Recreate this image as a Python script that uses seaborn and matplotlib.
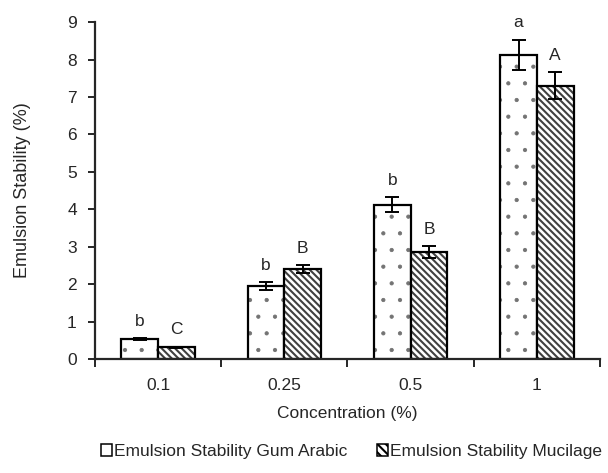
import numpy as np
import pandas as pd
import matplotlib
matplotlib.use("Agg")
import matplotlib.pyplot as plt
import seaborn as sns
from matplotlib.patches import Patch

# ----------------------------------------
# Datos
concentrations = ["0.1", "0.25", "0.5", "1"]
series_names = ["Emulsion Stability Gum Arabic", "Emulsion Stability Mucilage"]
gum_arabic = [0.53, 1.95, 4.12, 8.13]
gum_arabic_err = [0.03, 0.10, 0.20, 0.40]
mucilage = [0.31, 2.40, 2.86, 7.30]
mucilage_err = [0.02, 0.11, 0.15, 0.36]
letters_gum = ["b", "b", "b", "a"]
letters_muc = ["C", "B", "B", "A"]

data = pd.DataFrame({
    "Concentration": concentrations * 2,
    "Serie": [series_names[0]] * 4 + [series_names[1]] * 4,
    "Stability": gum_arabic + mucilage,
})
errors = gum_arabic_err + mucilage_err
letters = letters_gum + letters_muc

sns.set_theme(style="ticks")
plt.rcParams["font.family"] = ["Liberation Sans", "DejaVu Sans"]
plt.rcParams["hatch.linewidth"] = 1.5
fs = 12.5

fig = plt.figure(figsize=(6.08, 4.73), dpi=100)
ax = fig.add_axes([0.156, 0.241, 0.831, 0.712])

sns.barplot(data=data, x="Concentration", y="Stability", hue="Serie",
            order=concentrations, hue_order=series_names,
            palette=["white", "white"], edgecolor="black", linewidth=1.6,
            width=0.58, gap=0, errorbar=None, legend=False, ax=ax)

hatches = ["."] * 4 + ["\\\\\\\\\\"] * 4
for i, (patch, hatch) in enumerate(zip(ax.patches, hatches)):
    patch.set_hatch(hatch)
    if i < 4:
        # puntos finos y grises
        patch._hatch_color = (0.45, 0.45, 0.45, 1.0)
        if hasattr(patch, "set_hatch_linewidth"):
            patch.set_hatch_linewidth(0.6)
        else:
            patch._hatch_linewidth = 0.6
    else:
        patch._hatch_color = (0.25, 0.25, 0.25, 1.0)

# Barras de error y letras de significancia
for patch, val, err, letter in zip(ax.patches, data["Stability"], errors, letters):
    xc = patch.get_x() + patch.get_width() / 2
    ax.errorbar(xc, val, yerr=err, fmt="none", ecolor="black",
                elinewidth=1.4, capsize=5, capthick=1.4)
    ax.text(xc, val + err + 0.25, letter, ha="center", va="bottom", fontsize=fs)

ax.set_ylim(0, 9)
ax.set_yticks(range(0, 10))
ax.set_xlim(-0.5, 3.5)
ax.set_xlabel("Concentration (%)", fontsize=fs, labelpad=9)
ax.set_ylabel("Emulsion Stability (%)", fontsize=13, labelpad=26)

# Marcas del eje x en los límites de cada categoría
ax.set_xticks(np.arange(-0.5, 4.0, 1.0), minor=True)
ax.tick_params(axis="x", which="major", length=0, labelsize=fs, pad=14)
ax.tick_params(axis="x", which="minor", length=6, width=1.4, direction="out")
ax.tick_params(axis="y", length=5, width=1.4, labelsize=fs, pad=8)
for side in ["left", "bottom"]:
    ax.spines[side].set_linewidth(1.6)
sns.despine(ax=ax)

handles = [
    Patch(facecolor="white", edgecolor="black", linewidth=1.1, label=series_names[0]),
    Patch(facecolor="white", edgecolor="black", linewidth=1.1, hatch="\\\\\\\\",
          label=series_names[1]),
]
fig.legend(handles=handles, loc="center", bbox_to_anchor=(0.578, 0.045), ncol=2,
           frameon=False, handlelength=0.65, handleheight=0.65,
           handletextpad=0.12, columnspacing=1.7, borderpad=0.1, fontsize=fs)

plt.savefig("out.png", dpi=100)
